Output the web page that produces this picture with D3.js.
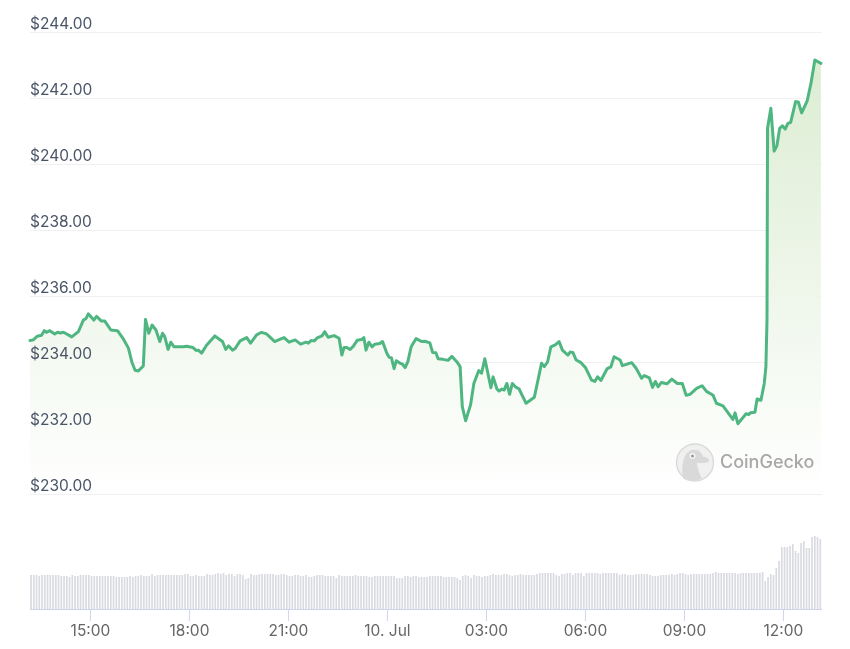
<!DOCTYPE html>
<html><head><meta charset="utf-8">
<script src="https://cdn.jsdelivr.net/npm/d3@7/dist/d3.min.js"></script>
<style>html,body{margin:0;padding:0;background:#fff}svg{display:block;filter:blur(.4px)}</style>
</head><body><svg id="c" width="850" height="649"></svg>
<script>
const priceMinutes=[0,6,13,21,26,30,36,45,50,55,61,76,88,97,102,106,116,121,130,136,147,159,170,179,185,191,197,206,210,216,222,229,236,241,245,251,256,262,279,285,296,302,306,312,321,336,350,356,361,368,373,382,394,401,412,421,430,445,455,462,471,482,492,502,506,511,517,522,531,536,542,553,562,567,571,576,582,588,595,603,607,611,616,622,627,636,641,649,653,657,662,666,673,677,682,687,693,702,712,718,727,732,738,742,751,760,767,776,782,786,792,801,807,816,821,827,838,842,849,853,858,862,867,872,877,883,889,896,902,917,930,935,941,947,955,962,968,978,982,987,993,1001,1010,1021,1027,1032,1038,1049,1056,1062,1073,1077,1094,1102,1112,1117,1126,1132,1137,1142,1148,1158,1167,1177,1186,1193,1200,1212,1222,1230,1242,1248,1260,1278,1282,1287,1302,1307,1310,1318,1322,1329,1335,1338,1340,1341,1347,1353,1358,1363,1368,1373,1378,1383,1392,1397,1403,1413,1420,1427,1438];
const prices=[234.65,234.67,234.78,234.81,234.95,234.90,234.95,234.85,234.90,234.88,234.90,234.76,234.92,235.27,235.32,235.46,235.27,235.38,235.24,235.24,234.97,234.95,234.69,234.42,234.01,233.75,233.73,233.88,235.29,234.87,235.12,234.97,234.62,234.87,234.77,234.38,234.60,234.46,234.46,234.48,234.44,234.35,234.36,234.27,234.51,234.79,234.62,234.38,234.49,234.36,234.41,234.64,234.74,234.57,234.82,234.90,234.85,234.62,234.69,234.74,234.60,234.67,234.54,234.60,234.57,234.65,234.64,234.73,234.79,234.92,234.75,234.80,234.72,234.21,234.44,234.44,234.38,234.48,234.66,234.68,234.74,234.36,234.60,234.46,234.54,234.56,234.62,234.26,234.14,234.13,233.80,234.04,233.96,233.94,233.83,234.01,234.46,234.71,234.62,234.63,234.58,234.29,234.28,234.10,234.08,234.05,234.17,234.01,233.86,232.65,232.22,232.70,233.35,233.74,233.66,234.10,233.22,233.55,233.18,233.12,233.18,233.15,233.35,233.02,233.35,233.24,233.19,232.95,232.75,232.93,233.96,233.86,234.00,234.46,234.52,234.62,234.36,234.21,234.30,234.29,234.06,233.99,233.83,233.45,233.41,233.55,233.44,233.79,233.85,234.16,234.06,233.89,233.98,233.81,233.51,233.59,233.52,233.23,233.41,233.25,233.38,233.34,233.48,233.35,233.35,232.99,233.02,233.20,233.28,233.11,232.99,232.75,232.67,232.26,232.46,232.13,232.43,232.41,232.46,232.48,232.88,232.84,233.35,233.86,235.27,241.08,241.69,240.39,240.55,241.08,241.16,241.06,241.23,241.26,241.89,241.88,241.55,241.91,242.45,243.15,243.05];
const volumes=[34,34,34,33,34,34,34,34,34,34,34,33,33,33,32,34,33,33,34,34,34,34,33,33,33,33,33,33,33,33,33,32,32,32,32,32,33,32,33,33,34,33,33,33,35,33,34,34,34,34,34,34,34,34,34,34,35,35,33,33,34,33,33,33,35,34,34,35,36,35,36,
34,35,35,33,35,35,34,30,31,35,34,34,35,35,35,35,35,35,34,34,35,35,34,33,33,34,34,33,33,34,32,32,33,34,34,34,33,33,33,33,31,34,33,33,33,33,33,34,33,33,33,33,32,32,33,33,33,33,33,33,33,33,31,31,31,33,33,32,33,33,32,32,32,
32,33,33,33,33,33,32,32,32,32,32,31,29,33,34,33,31,34,33,33,32,33,33,34,35,34,34,34,35,35,34,33,34,34,35,34,34,34,34,34,35,36,36,36,36,36,36,34,33,35,35,36,36,34,36,36,36,33,36,36,36,36,36,35,36,36,36,36,36,36,34,35,
35,34,34,34,35,35,35,35,35,34,33,33,33,34,34,34,34,35,34,35,36,36,35,34,35,35,35,35,35,35,35,35,36,37,36,36,36,36,36,36,36,35,36,36,36,36,36,36,36,36,37,
28,32,35,34,41,48,62,62,62,63,65,58,56,66,68,61,61,72,73,72,70];
const yTickValues=[230,232,234,236,238,240,242,244];
const xTickLabels=["15:00","18:00","21:00","10. Jul","03:00","06:00","09:00","12:00"];
const chartStart=Date.UTC(2024,6,9,13,11);
const sampleMinutes=5, chartHours=24;

const svg=d3.select("#c");
const fontStack="Inter, 'Noto Sans', sans-serif";
const x=d3.scaleUtc().domain([new Date(chartStart),new Date(chartStart+chartHours*3600e3)]).range([30,822]);
const y=d3.scaleLinear().domain([230,244]).range([494,32]);
const v=d3.scaleLinear().domain([0,73]).range([609,536]);
const t=m=>new Date(chartStart+m*60000);
const series=prices.map((p,i)=>({d:t(priceMinutes[i]),p}));

const defs=svg.append("defs");
const g=defs.append("linearGradient").attr("id","fill").attr("gradientUnits","userSpaceOnUse")
 .attr("x1",0).attr("x2",0).attr("y1",y(243.2)).attr("y2",y(230));
g.append("stop").attr("offset",0).attr("stop-color","#dcedd3");
g.append("stop").attr("offset",1).attr("stop-color","#ffffff");

// grid
svg.append("g").attr("transform","translate(30,0)")
 .call(d3.axisLeft(y).tickValues(yTickValues).tickSize(-792).tickFormat(""))
 .call(a=>a.select(".domain").remove())
 .call(a=>a.selectAll("line").attr("stroke","#f0f0f2").attr("stroke-width",1));

// area + line
svg.append("path").datum(series).attr("fill","url(#fill)").attr("d",
 d3.area().x(d=>x(d.d)).y0(y(230)).y1(d=>y(d.p)));
svg.append("path").datum(series).attr("fill","none").attr("stroke","#4fb681").attr("stroke-width",3)
 .attr("stroke-linejoin","round").attr("stroke-linecap","round")
 .attr("d",d3.line().x(d=>x(d.d)).y(d=>y(d.p)));

// y labels
svg.append("g").selectAll("text").data(yTickValues).join("text")
 .attr("x",30).attr("y",d=>y(d)-3.5).attr("fill","#4a5568")
 .attr("font-family",fontStack).attr("font-size",15.5)
 .text(d=>"$"+d.toFixed(2));

// volume bars
svg.append("g").selectAll("rect").data(volumes).join("rect")
 .attr("x",(d,i)=>x(t(i*sampleMinutes))+0.2).attr("width",1.7)
 .attr("y",d=>v(d)).attr("height",d=>v(0)-v(d)).attr("fill","#d9dbe1");

// x axis
const ticksAt=d3.utcHour.every(3).range(x.domain()[0],x.domain()[1]);
const xAxis=svg.append("g").attr("transform","translate(0,609)")
 .call(d3.axisBottom(x).tickValues(ticksAt).tickSize(12).tickFormat((d,i)=>xTickLabels[i]));
xAxis.select(".domain").attr("stroke","#ccd6eb").attr("d","M30,0.5H822");
xAxis.selectAll("line").attr("stroke","#ccd6eb");
xAxis.selectAll("text").attr("fill","#666").attr("font-family",fontStack).attr("font-size",15.5)
 .attr("y",0).attr("dy",26.5);

// watermark
const wm=svg.append("g").attr("transform","translate(695,462.5)");
wm.append("circle").attr("r",18.5).attr("fill","#f0f0f0").attr("stroke","#dadada").attr("stroke-width",1.4);
wm.append("path").attr("fill","#d9d9d9").attr("d","M-12,16 C-14,4 -12,-10 -3,-12.5 C3,-14 7,-10 8,-6 C12,-5 15,-3.5 14,-1.5 C12,1 6,1 2,0 C2,6 5,12 7,16 C0,19 -7,19 -12,16Z");
wm.append("circle").attr("cx",-2.5).attr("cy",-6.5).attr("r",3).attr("fill","#f5f5f5");
wm.append("circle").attr("cx",-2.5).attr("cy",-6.5).attr("r",1.5).attr("fill","#9a9a9a");
svg.append("text").attr("x",720).attr("y",468).attr("fill","#a8a8a8")
 .attr("font-family",fontStack).attr("font-size",18).attr("font-weight",500).text("CoinGecko");
</script></body></html>
